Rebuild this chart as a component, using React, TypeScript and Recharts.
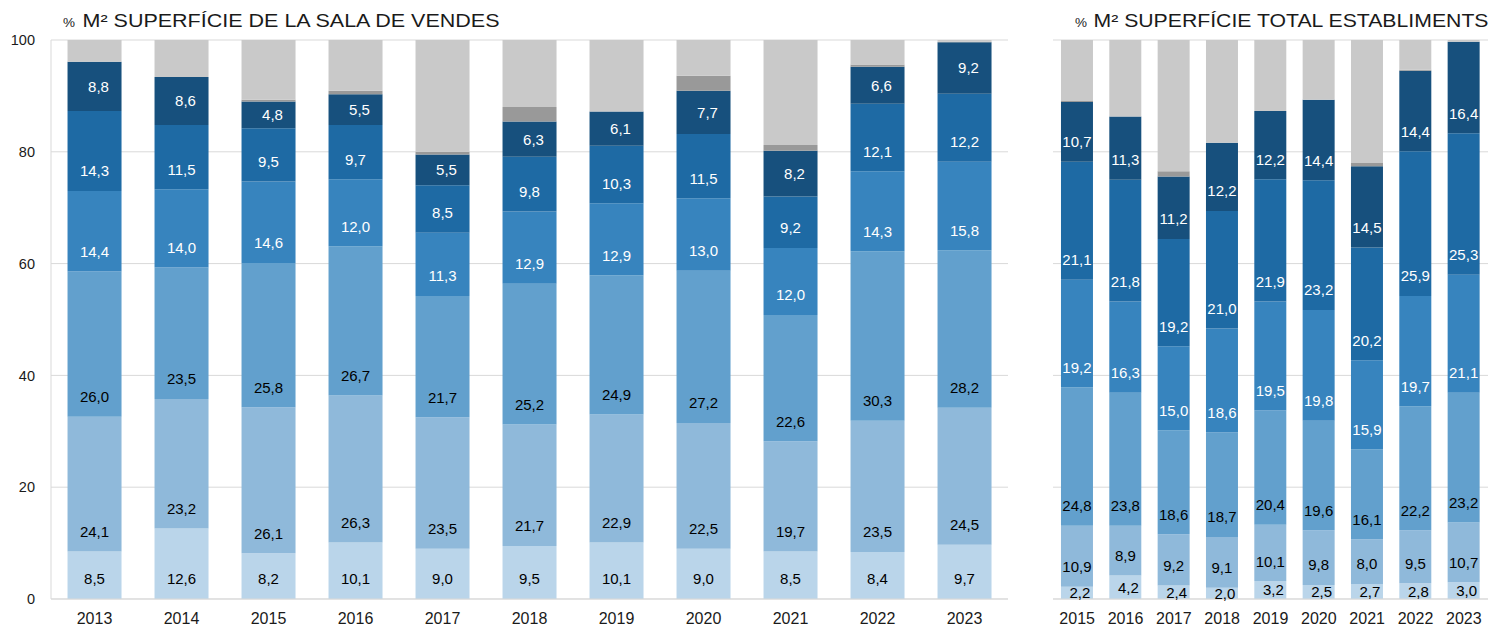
import React from 'react';
import { BarChart, Bar, XAxis, YAxis, CartesianGrid, LabelList } from 'recharts';

const salaYears = ['2013', '2014', '2015', '2016', '2017', '2018', '2019', '2020', '2021', '2022', '2023'];
const salaS1 = [8.5, 12.6, 8.2, 10.1, 9.0, 9.5, 10.1, 9.0, 8.5, 8.4, 9.7];
const salaS2 = [24.1, 23.2, 26.1, 26.3, 23.5, 21.7, 22.9, 22.5, 19.7, 23.5, 24.5];
const salaS3 = [26.0, 23.5, 25.8, 26.7, 21.7, 25.2, 24.9, 27.2, 22.6, 30.3, 28.2];
const salaS4 = [14.4, 14.0, 14.6, 12.0, 11.3, 12.9, 12.9, 13.0, 12.0, 14.3, 15.8];
const salaS5 = [14.3, 11.5, 9.5, 9.7, 8.5, 9.8, 10.3, 11.5, 9.2, 12.1, 12.2];
const salaS6 = [8.8, 8.6, 4.8, 5.5, 5.5, 6.3, 6.1, 7.7, 8.2, 6.6, 9.2];
const salaDark = [0, 0, 0.3, 0.6, 0.5, 2.6, 0, 2.7, 1.0, 0.4, 0.1];
const salaRest = [3.9, 6.6, 10.7, 9.1, 20.0, 12.0, 12.8, 6.4, 18.8, 4.4, 0.3];

const totalYears = ['2015', '2016', '2017', '2018', '2019', '2020', '2021', '2022', '2023'];
const totalS1 = [2.2, 4.2, 2.4, 2.0, 3.2, 2.5, 2.7, 2.8, 3.0];
const totalS2 = [10.9, 8.9, 9.2, 9.1, 10.1, 9.8, 8.0, 9.5, 10.7];
const totalS3 = [24.8, 23.8, 18.6, 18.7, 20.4, 19.6, 16.1, 22.2, 23.2];
const totalS4 = [19.2, 16.3, 15.0, 18.6, 19.5, 19.8, 15.9, 19.7, 21.1];
const totalS5 = [21.1, 21.8, 19.2, 21.0, 21.9, 23.2, 20.2, 25.9, 25.3];
const totalS6 = [10.7, 11.3, 11.2, 12.2, 12.2, 14.4, 14.5, 14.4, 16.4];
const totalDark = [0.2, 0, 0.9, 0, 0, 0, 0.6, 0.2, 0];
const totalRest = [10.9, 13.7, 23.5, 18.4, 12.7, 10.7, 22.0, 5.5, 0.3];

const yTicks = [0, 20, 40, 60, 80, 100];

const COLORS = ['#bad5ea', '#8fb9da', '#62a0cd', '#3784be', '#1e6aa4', '#17507d'];
const DARK_GREY = '#999999';
const LIGHT_GREY = '#c9c9c9';
const GRID = '#d9d9d9';
const FONT = '"Liberation Sans", Arial, sans-serif';

const salaData = salaYears.map((year, i) => ({
  year,
  s1: salaS1[i], s2: salaS2[i], s3: salaS3[i], s4: salaS4[i], s5: salaS5[i], s6: salaS6[i],
  dark: salaDark[i], rest: salaRest[i],
}));

const totalData = totalYears.map((year, i) => ({
  year,
  s1: totalS1[i], s2: totalS2[i], s3: totalS3[i], s4: totalS4[i], s5: totalS5[i], s6: totalS6[i],
  dark: totalDark[i], rest: totalRest[i],
}));

const fmt = (v: number) => v.toFixed(1).replace('.', ',');

const makeLabel = (color: string, mode: 'bottom' | 'center', dx = 0) => (props: any) => {
  const { x, y, width, height, value } = props;
  if (value === undefined || value === null || Number(value) <= 0) return null;
  const cx = Number(x) + Number(width) / 2 + dx;
  const cy = mode === 'center' ? Number(y) + Number(height) / 2 : Number(y) + Number(height) - 20;
  return (
    <text x={cx} y={cy + 5.4} textAnchor="middle" fontSize={15} fill={color} fontFamily={FONT}>
      {fmt(Number(value))}
    </text>
  );
};

const xTick = { fontSize: 16, fill: '#1a1a1a', fontFamily: FONT };
const yTick = { fontSize: 14.5, fill: '#1a1a1a', fontFamily: FONT };

function renderBars(modes: ('bottom' | 'center')[], dxs: number[]) {
  const keys = ['s1', 's2', 's3', 's4', 's5', 's6'];
  const textColors = ['#000000', '#000000', '#000000', '#ffffff', '#ffffff', '#ffffff'];
  const out = keys.map((k, i) => (
    <Bar key={k} dataKey={k} stackId="a" fill={COLORS[i]} isAnimationActive={false}>
      <LabelList dataKey={k} content={makeLabel(textColors[i], modes[i], dxs[i])} />
    </Bar>
  ));
  out.push(<Bar key="dark" dataKey="dark" stackId="a" fill={DARK_GREY} isAnimationActive={false} />);
  out.push(<Bar key="rest" dataKey="rest" stackId="a" fill={LIGHT_GREY} isAnimationActive={false} />);
  return out;
}

export default function App() {
  return (
    <div style={{ position: 'absolute', left: 0, top: 0, width: 1501, height: 627, background: '#ffffff', fontFamily: FONT }}>
      <div style={{ position: 'absolute', left: 0, top: 0 }}>
        <BarChart
          width={1010}
          height={627}
          data={salaData}
          margin={{ top: 40, right: 2, bottom: 0, left: 0 }}
          barCategoryGap="19%"
        >
          <CartesianGrid vertical={false} stroke={GRID} />
          <XAxis
            dataKey="year"
            height={28}
            tickLine={false}
            tickSize={0}
            tickMargin={14}
            axisLine={{ stroke: GRID }}
            tick={xTick}
            interval={0}
          />
          <YAxis
            width={51}
            domain={[0, 100]}
            ticks={yTicks}
            tickLine={false}
            tickSize={0}
            tickMargin={16}
            axisLine={{ stroke: GRID }}
            tick={yTick}
            allowDataOverflow
          />
          {renderBars(['bottom', 'bottom', 'bottom', 'bottom', 'bottom', 'center'], [0, 0, 0, 0, 0, 4])}
        </BarChart>
      </div>
      <div style={{ position: 'absolute', left: 1053, top: 0 }}>
        <BarChart
          width={435}
          height={627}
          data={totalData}
          margin={{ top: 40, right: 0, bottom: 0, left: 0 }}
          barCategoryGap="16.5%"
        >
          <CartesianGrid vertical={false} stroke={GRID} />
          <XAxis
            dataKey="year"
            height={28}
            tickLine={false}
            tickSize={0}
            tickMargin={14}
            axisLine={{ stroke: GRID }}
            tick={xTick}
            interval={0}
          />
          <YAxis hide domain={[0, 100]} ticks={yTicks} allowDataOverflow />
          {renderBars(['center', 'bottom', 'bottom', 'bottom', 'bottom', 'bottom'], [3, 0, 0, 0, 0, 0])}
        </BarChart>
      </div>
      <svg width={1501} height={627} style={{ position: 'absolute', left: 0, top: 0, pointerEvents: 'none' }}>
        <text x={63} y={27} fontFamily={FONT} fill="#1a1a1a" fontSize={13.5}>%</text>
        <text x={82.5} y={27} fontFamily={FONT} fill="#1a1a1a" fontSize={18} textLength={417} lengthAdjust="spacingAndGlyphs">
          M² SUPERFÍCIE DE LA SALA DE VENDES
        </text>
        <text x={1075} y={27} fontFamily={FONT} fill="#1a1a1a" fontSize={13.5}>%</text>
        <text x={1093.5} y={27} fontFamily={FONT} fill="#1a1a1a" fontSize={18} textLength={395} lengthAdjust="spacingAndGlyphs">
          M² SUPERFÍCIE TOTAL ESTABLIMENTS
        </text>
      </svg>
    </div>
  );
}
